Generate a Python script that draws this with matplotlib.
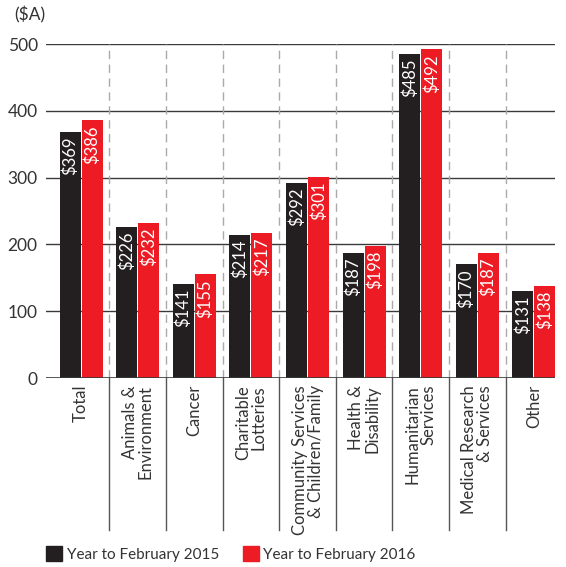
import matplotlib.pyplot as plt
from matplotlib.patches import Patch
import numpy as np

plt.rcParams['font.family'] = ['Lato', 'DejaVu Sans']

# data
categories = ['Total', 'Animals &\nEnvironment', 'Cancer', 'Charitable\nLotteries',
              'Community Services\n& Children/Family', 'Health &\nDisability',
              'Humanitarian\nServices', 'Medical Research\n& Services', 'Other']
y2015 = [369, 226, 141, 214, 292, 187, 485, 170, 131]
y2016 = [386, 232, 155, 217, 301, 198, 492, 187, 138]
series_names = ['Year to February 2015', 'Year to February 2016']

black = '#231f20'
red = '#ed1c24'
txt = '#333333'

fig = plt.figure(figsize=(5.66, 5.67), dpi=100)
ax = fig.add_axes([0.0813, 0.3333, 0.899, 0.589])

x = np.arange(len(categories))
w = 0.37
b1 = ax.bar(x - 0.195, y2015, w, color=black, zorder=3)
b2 = ax.bar(x + 0.195, y2016, w, color=red, zorder=3)

# value labels inside bars
for bars in (b1, b2):
    for r in bars:
        h = r.get_height()
        ax.annotate('$%d' % h, (r.get_x() + r.get_width() / 2, h),
                    xytext=(0, -3.5), textcoords='offset points',
                    rotation=90, ha='center', va='top', color='white',
                    fontsize=12, zorder=4)

ax.set_xlim(-0.62, 8.37)
ax.set_ylim(0, 500)
ax.set_yticks([0, 100, 200, 300, 400, 500])
for yv in [100, 200, 300, 400, 500]:
    ax.axhline(yv, color='#3a3a3a', lw=1, zorder=1)
ax.axhline(0, color='#3a3a3a', lw=1.2, zorder=5)

# category separators: dashed above, solid below axis
for s in x[:-1] + 0.5:
    ax.plot([s, s], [0, 500], color='#aaaaaa', lw=1, dashes=(6, 4), zorder=1)
    ax.plot([s, s], [0, -0.455], color='#555555', lw=1,
            transform=ax.get_xaxis_transform(), clip_on=False)

for sp in ax.spines.values():
    sp.set_visible(False)

ax.set_xticks(x)
ax.set_xticklabels(categories, rotation=90, fontsize=12, color=txt)
for lab in ax.get_xticklabels():
    lab.set_multialignment('right')
    lab.set_linespacing(1.0)
ax.tick_params(axis='x', length=0, pad=5)
ax.tick_params(axis='y', length=0, pad=6, labelsize=12.5, labelcolor=txt)

fig.text(14 / 566, 1 - 15 / 567, '($A)', fontsize=12.5, color=txt, va='center', ha='left')

handles = [Patch(color=black), Patch(color=red)]
fig.legend(handles, series_names, loc='center left',
           bbox_to_anchor=(46 / 566, 1 - 554 / 567), ncol=2, frameon=False,
           borderpad=0, borderaxespad=0,
           fontsize=11, handlelength=1.05, handleheight=1.05, handletextpad=0.3,
           columnspacing=1.55, labelcolor=txt)

plt.savefig('out.png', dpi=100)
